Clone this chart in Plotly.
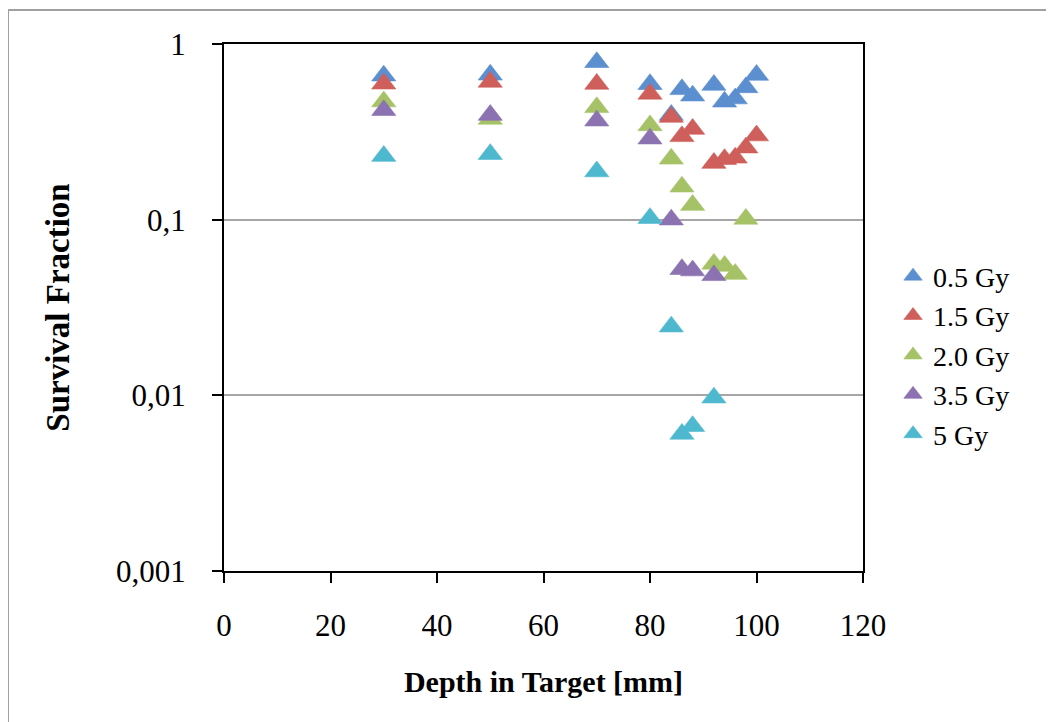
import plotly.graph_objects as go

# Depths [mm]
depth_05 = [30, 50, 70, 80, 84, 86, 88, 92, 94, 96, 98, 100]
depth_15 = [30, 50, 70, 80, 84, 86, 88, 92, 94, 96, 98, 100]
depth_20 = [30, 50, 70, 80, 84, 86, 88, 92, 94, 96, 98]
depth_35 = [30, 50, 70, 80, 84, 86, 88, 92]
depth_5 = [30, 50, 70, 80, 84, 86, 88, 92]

# Survival fractions
sf_05 = [0.66, 0.668, 0.787, 0.59, 0.394, 0.552, 0.508, 0.584, 0.469, 0.489, 0.566, 0.666]
sf_15 = [0.594, 0.608, 0.592, 0.52, 0.384, 0.298, 0.328, 0.21, 0.221, 0.225, 0.257, 0.301]
sf_20 = [0.47, 0.374, 0.436, 0.344, 0.222, 0.154, 0.121, 0.056, 0.0545, 0.049, 0.101]
sf_35 = [0.42, 0.394, 0.366, 0.289, 0.1, 0.0522, 0.0513, 0.0482]
sf_5 = [0.23, 0.236, 0.188, 0.102, 0.0246, 0.00603, 0.00667, 0.0097]

series_names = ["0.5 Gy", "1.5 Gy", "2.0 Gy", "3.5 Gy", "5 Gy"]
colors = ["#5B8FCF", "#CF5F5A", "#A6C267", "#8C72B1", "#4EB8CF"]

y_tickvals = [0.001, 0.01, 0.1, 1]
y_ticktext = ["0,001", "0,01", "0,1", "1"]
x_tickvals = [0, 20, 40, 60, 80, 100, 120]

FONT = "Liberation Serif"

W, H = 1046, 714
L, T, PW, PH = 216, 36, 639, 527

fig = go.Figure()
for name, xs, ys, c in zip(series_names,
                           [depth_05, depth_15, depth_20, depth_35, depth_5],
                           [sf_05, sf_15, sf_20, sf_35, sf_5], colors):
    fig.add_trace(go.Scatter(
        x=xs, y=ys, mode="markers", name=name,
        marker=dict(symbol="triangle-up", size=21, color=c,
                    line=dict(width=0.6, color=c)),
    ))

fig.update_layout(
    width=W, height=H,
    margin=dict(l=L, r=W - L - PW, t=T, b=H - T - PH),
    paper_bgcolor="white", plot_bgcolor="white",
    font=dict(family=FONT, size=31, color="black"),
    showlegend=True,
    legend=dict(x=1.047, y=0.41, xanchor="left", yanchor="middle",
                font=dict(family=FONT, size=28, color="black"),
                itemwidth=30, tracegroupgap=0, bgcolor="rgba(0,0,0,0)"),
    xaxis=dict(range=[0, 120], tickvals=x_tickvals,
               showline=True, linecolor="black", linewidth=2, mirror=True,
               ticks="outside", ticklen=10, tickwidth=2, tickcolor="black",
               showgrid=False, zeroline=False, ticklabelstandoff=16,
               tickfont=dict(family=FONT, size=31),
               title=dict(text="<b>Depth in Target [mm]</b>", standoff=29,
                          font=dict(family=FONT, size=30))),
    yaxis=dict(type="log", range=[-3, 0], tickvals=y_tickvals, ticktext=y_ticktext,
               showline=True, linecolor="black", linewidth=2, mirror=True,
               ticks="outside", ticklen=10, tickwidth=2, tickcolor="black",
               showgrid=True, gridcolor="#A6A6A6", gridwidth=2, zeroline=False,
               ticklabelstandoff=20,
               tickfont=dict(family=FONT, size=31),
               title=dict(text="<b>Survival Fraction</b>", standoff=36,
                          font=dict(family=FONT, size=33))),
    shapes=[dict(type="rect", xref="paper", yref="paper",
                 x0=(0 - L) / PW, x1=(W + 20 - L) / PW,
                 y0=-(H + 20 - T - PH) / PH, y1=1 + (T - 2) / PH,
                 line=dict(color="#A0A0A0", width=2), layer="below")],
)

fig.write_html("out.html")
